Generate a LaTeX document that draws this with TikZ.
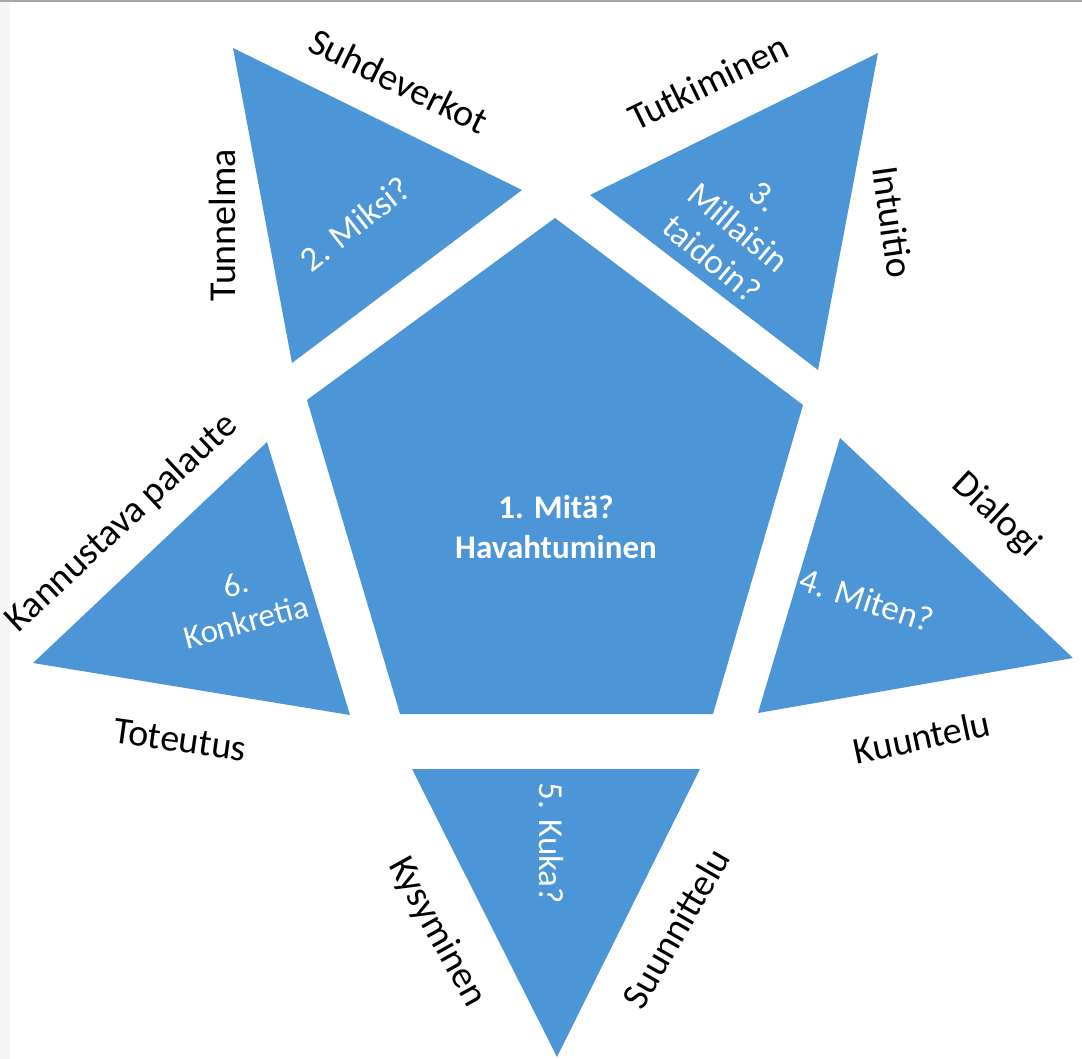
\documentclass[tikz,border=0pt]{standalone}
\usepackage{fontspec}
\setmainfont{Carlito}
\definecolor{petalblue}{RGB}{76,149,214}
\tikzset{
  petal/.style={fill=petalblue, draw=none},
  word/.style={text=black, inner sep=0pt, font=\fontsize{38}{44}\selectfont},
  inword/.style={text=white, inner sep=0pt, align=center, font=\fontsize{35}{41}\selectfont},
}
\begin{document}
\begin{tikzpicture}[x=1pt, y=-1pt]
        \useasboundingbox (0,0) rectangle (1082,1059);
        % Frame
        \fill[gray!8] (0,0) rectangle (10,1059);
        \fill[gray!70] (0,0) rectangle (1082,2);

        % Coordinates
        \coordinate (P1) at (555,218);
        \coordinate (P2) at (803,405);
        \coordinate (P3) at (713,714);
        \coordinate (P4) at (400,714);
        \coordinate (P5) at (307,400);

        \coordinate (T2a) at (233,48);
        \coordinate (T2b) at (522,190);
        \coordinate (T2c) at (292,363);

        \coordinate (T3a) at (878,53);
        \coordinate (T3b) at (590,195);
        \coordinate (T3c) at (818,370);

        \coordinate (T4a) at (840,438);
        \coordinate (T4b) at (1073,658);
        \coordinate (T4c) at (758,713);

        \coordinate (T5a) at (412,769);
        \coordinate (T5b) at (700,769);
        \coordinate (T5c) at (557,1057);

        \coordinate (T6a) at (267,442);
        \coordinate (T6b) at (33,663);
        \coordinate (T6c) at (350,715);

        % Drawing the pentagon and the triangles
        \fill[petal] (P1) -- (P2) -- (P3) -- (P4) -- (P5) -- cycle;
        \fill[petal] (T2a) -- (T2b) -- (T2c) -- cycle;
        \fill[petal] (T3a) -- (T3b) -- (T3c) -- cycle;
        \fill[petal] (T4a) -- (T4b) -- (T4c) -- cycle;
        \fill[petal] (T5a) -- (T5b) -- (T5c) -- cycle;
        \fill[petal] (T6a) -- (T6b) -- (T6c) -- cycle;

        % Labels inside
        \node[inword, font=\fontsize{33}{40}\selectfont\bfseries] (mita) at (556,527) {1. Mitä?\\Havahtuminen};
        \node[inword, rotate=38] (miksi) at (355,224) {2. Miksi?};
        \node[inword, rotate=-40] (millaisin) at (738,228) {3.\\Millaisin\\taidoin?};
        \node[inword, rotate=-18] (miten) at (867,600) {4. Miten?};
        \node[inword, rotate=-90] (kuka) at (552,843) {5. Kuka?};
        \node[inword, rotate=15, font=\fontsize{33}{39}\selectfont] (konkretia) at (241,603) {6.\\Konkretia};

        % Labels outside
        \node[word, rotate=-26] (suhde) at (399,81) {Suhdeverkot};
        \node[word, rotate=90] (tunnelma) at (222,225) {Tunnelma};
        \node[word, rotate=26] (tutki) at (708,82) {Tutkiminen};
        \node[word, rotate=-82] (intuitio) at (893,222) {Intuitio};
        \node[word, rotate=-43] (dialogi) at (996,515) {Dialogi};
        \node[word, rotate=12] (kuuntelu) at (922,737) {Kuuntelu};
        \node[word, rotate=60] (suunn) at (676,928) {Suunnittelu};
        \node[word, rotate=-61] (kysy) at (437,932) {Kysyminen};
        \node[word, rotate=-8] (toteutus) at (180,740) {Toteutus};
        \node[word, rotate=43] (kannustus) at (122,523) {Kannustava palaute};
    \end{tikzpicture}
\end{document}
